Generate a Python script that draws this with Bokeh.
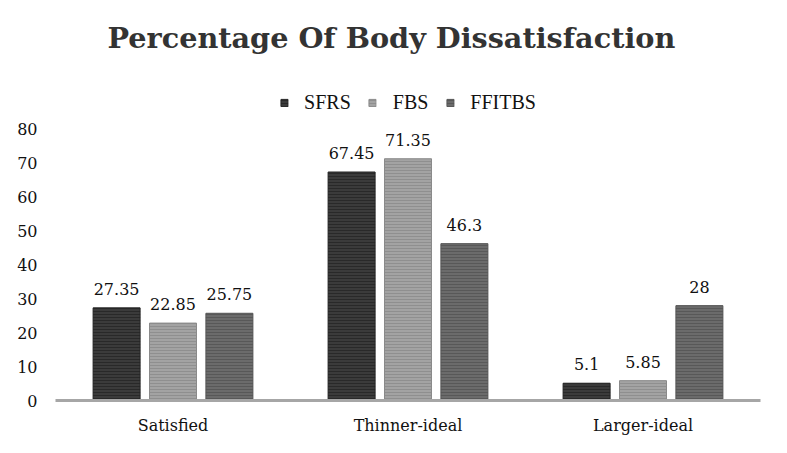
from bokeh.plotting import figure
from bokeh.models import ColumnDataSource, LabelSet, Legend, LegendItem, FixedTicker, Range1d
from bokeh.transform import dodge
from bokeh.core.properties import value
from bokeh.embed import file_html
from bokeh.resources import INLINE

categories = ["Satisfied", "Thinner-ideal", "Larger-ideal"]
series = ["SFRS", "FBS", "FFITBS"]
sfrs = [27.35, 67.45, 5.1]
fbs = [22.85, 71.35, 5.85]
ffitbs = [25.75, 46.3, 28]
y_ticks = [0, 10, 20, 30, 40, 50, 60, 70, 80]

fills = ["#3b3b3b", "#a3a3a3", "#6b6b6b"]
hatches = ["#242424", "#8a8a8a", "#545454"]
offsets = [-0.24, 0.0, 0.24]

src = ColumnDataSource(dict(cat=categories, SFRS=sfrs, FBS=fbs, FFITBS=ffitbs,
                            SFRS_t=[str(v) for v in sfrs],
                            FBS_t=[str(v) for v in fbs],
                            FFITBS_t=[str(v) for v in ffitbs]))

p = figure(x_range=categories, y_range=Range1d(0, 100.66), width=771, height=437,
           output_backend="svg", toolbar_location=None,
           min_border_left=55, min_border_right=11, min_border_bottom=37, min_border_top=59)
p.x_range.range_padding = 0

p.title.text = "Percentage Of Body Dissatisfaction"
p.title.text_font = "DejaVu Serif"
p.title.text_font_style = "bold"
p.title.text_font_size = "28.7px"
p.title.text_color = "#333333"
p.title.align = "left"
p.title.offset = 52

items = []
for name, col, hc, off in zip(series, fills, hatches, offsets):
    r = p.vbar(x=dodge("cat", off, range=p.x_range), top=name, width=0.2, source=src,
               fill_color=col, line_color=hc, line_width=1,
               hatch_pattern="horizontal_line", hatch_scale=3, hatch_weight=1,
               hatch_color=hc, hatch_alpha=0.8)
    items.append(LegendItem(label=name, renderers=[r]))
    lbl = LabelSet(x=dodge("cat", off, range=p.x_range), y=name, text=name + "_t", source=src,
                   text_align="center", text_baseline="alphabetic", y_offset=13,
                   text_font=value("DejaVu Serif"), text_font_size="16px", text_color="#111111")
    p.add_layout(lbl)

legend = Legend(items=items, orientation="horizontal", location="top_center",
                label_text_font="Liberation Serif", label_text_font_size="20px",
                label_text_color="#111111", glyph_width=9, glyph_height=9,
                label_standoff=16, spacing=17, border_line_color=None,
                background_fill_alpha=0, padding=4, margin=32)
p.add_layout(legend)

p.xgrid.grid_line_color = None
p.ygrid.grid_line_color = None
p.outline_line_color = None

p.yaxis.ticker = FixedTicker(ticks=y_ticks)
p.yaxis.axis_line_color = None
p.yaxis.major_tick_line_color = None
p.yaxis.major_tick_out = 0
p.yaxis.major_tick_in = 0
p.yaxis.minor_tick_line_color = None
p.yaxis.major_label_standoff = 18
p.yaxis.major_label_text_font = "DejaVu Serif"
p.yaxis.major_label_text_font_size = "16px"
p.yaxis.major_label_text_color = "#111111"

p.xaxis.axis_line_color = "#a6a6a6"
p.xaxis.axis_line_width = 3
p.xaxis.major_tick_line_color = None
p.xaxis.minor_tick_line_color = None
p.xaxis.major_label_standoff = 9
p.xaxis.major_label_text_font = "DejaVu Serif"
p.xaxis.major_label_text_font_size = "16px"
p.xaxis.major_label_text_color = "#111111"

open("out.html", "w").write(file_html(p, INLINE))
